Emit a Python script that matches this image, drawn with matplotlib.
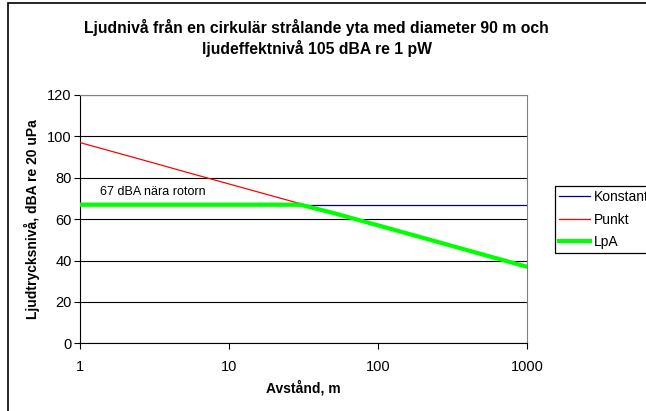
import matplotlib.pyplot as plt
from matplotlib.patches import Rectangle

plt.rcParams['font.family'] = ['Liberation Sans', 'DejaVu Sans']

# Data
avstand = [1, 2, 3, 5, 10, 20, 30, 50, 100, 200, 500, 1000]
konstant = [67, 67, 67, 67, 67, 67, 67, 67, 67, 67, 67, 67]
punkt = [97, 91, 87.5, 83, 77, 71, 67.5, 63, 57, 51, 43, 37]
lpa = [67, 67, 67, 67, 67, 67, 67, 63, 57, 51, 43, 37]

fig = plt.figure(figsize=(6.46, 4.11), dpi=100)
ax = fig.add_axes([0.1238, 0.1647, 0.692, 0.6042])

# yttre ram
fig.patches.append(Rectangle((8 / 646, -0.1), 1.2, 1.1 - 3 / 411,
                             transform=fig.transFigure, fill=False,
                             edgecolor='black', linewidth=1.2))

ax.plot(avstand, konstant, color='#000080', lw=0.9, label='Konstant', zorder=3)
ax.plot(avstand, punkt, color='#FF0000', lw=0.9, label='Punkt', zorder=3)
ax.plot(avstand, lpa, color='#00FF00', lw=3, label='LpA', zorder=4)

ax.set_xscale('log')
ax.set_xlim(1, 1000)
ax.set_ylim(0, 120)
ax.set_yticks(range(0, 121, 20))
ax.set_xticks([1, 10, 100, 1000])
ax.set_xticklabels(['1', '10', '100', '1000'])
ax.minorticks_off()
ax.grid(True, axis='y', color='black', lw=0.8)
ax.set_axisbelow(True)

ax.tick_params(labelsize=10.5, length=4, width=0.8, pad=2)
ax.tick_params(axis='x', pad=8)
for s in ['top', 'right']:
    ax.spines[s].set_color('#808080')
for s in ['left', 'bottom']:
    ax.spines[s].set_color('black')

ax.text(1.36, 73, '67 dBA nära rotorn', fontsize=9, va='center', ha='left')

fig.text(0.49, 0.9075, 'Ljudnivå från en cirkulär strålande yta med diameter 90 m och\n'
         'ljudeffektnivå 105 dBA re 1 pW', ha='center', va='center',
         fontsize=11.3, fontweight='bold', linespacing=1.25)
ax.set_xlabel('Avstånd, m', fontsize=10, fontweight='bold', labelpad=4)
ax.set_ylabel('Ljudtrycksnivå, dBA re 20 uPa', fontsize=10, fontweight='bold', labelpad=5)

leg = fig.legend(loc='upper left', bbox_to_anchor=(0.859, 0.547),
                 bbox_transform=fig.transFigure, fontsize=10, frameon=True,
                 fancybox=False, edgecolor='black', framealpha=1,
                 handlelength=2.2, labelspacing=0.6, borderaxespad=0,
                 borderpad=0.3, handletextpad=0.3)
leg.get_frame().set_linewidth(0.9)

fig.savefig('out.png', dpi=100)
